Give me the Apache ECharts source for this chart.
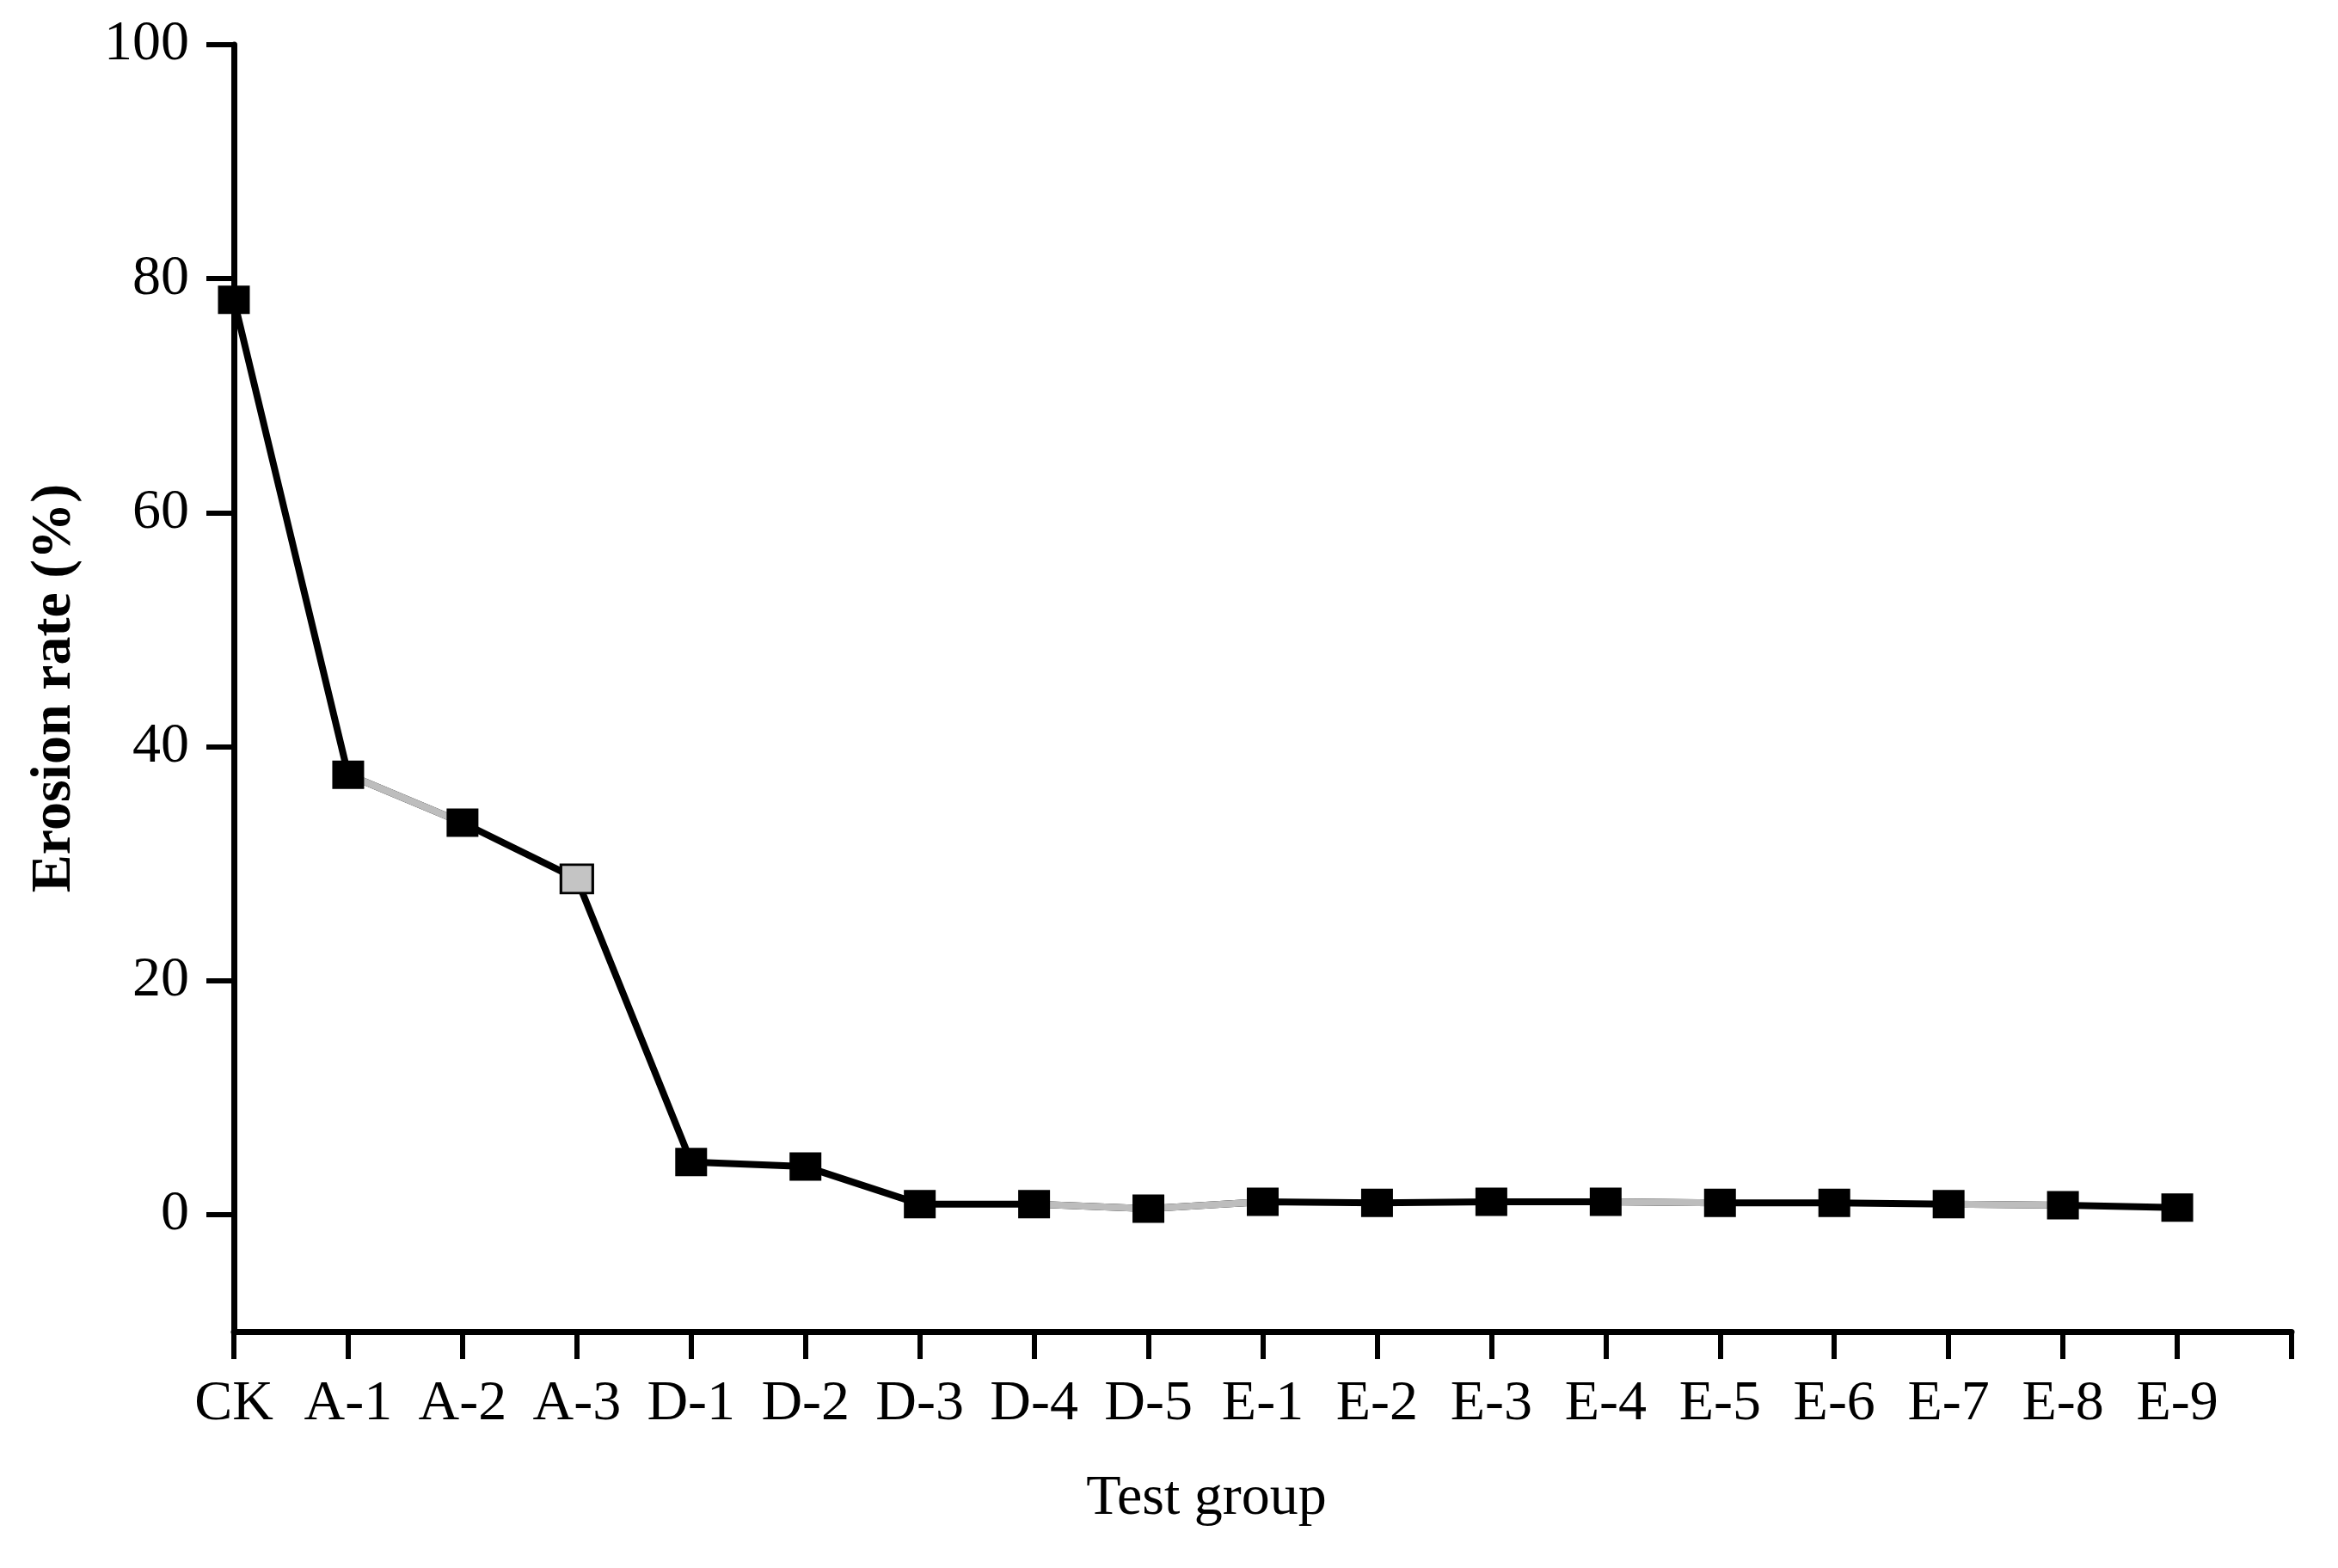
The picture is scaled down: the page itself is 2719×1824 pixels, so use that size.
<!DOCTYPE html>
<html>
<head>
<meta charset="utf-8">
<title>Erosion rate</title>
<script src="https://cdn.jsdelivr.net/npm/echarts@6/dist/echarts.min.js"></script>
<style>
    html, body { margin: 0; padding: 0; background: #fff; }
    #chart { width: 2719px; height: 1824px; }
</style>
</head>
<body>
<div id="chart"></div>
<script>
    const categories = ['CK', 'A-1', 'A-2', 'A-3', 'D-1', 'D-2', 'D-3', 'D-4', 'D-5',
        'E-1', 'E-2', 'E-3', 'E-4', 'E-5', 'E-6', 'E-7', 'E-8', 'E-9'];
    const erosionRate = [78.2, 37.6, 33.5, 28.7, 4.5, 4.1, 0.9, 0.9, 0.5,
        1.1, 1.0, 1.1, 1.1, 1.0, 1.0, 0.9, 0.8, 0.6];
    const yTicks = [0, 20, 40, 60, 80, 100];
    // segments (by start index) that are drawn light grey in the original
    const graySegments = [1, 7, 8, 12, 15];
    const grayMarkers = [3];

    const font = 'Liberation Serif';
    const black = '#000';
    const gray = '#bdbdbd';

    // one extra empty category so the axis ends with a tick after E-9
    const xData = categories.concat(['']);

    let series = [
        {
            name: 'line',
            type: 'line',
            data: erosionRate,
            symbol: 'none',
            lineStyle: { color: black, width: 8 },
            z: 2
        }
    ];

    graySegments.forEach(s => {
        series.push({
            type: 'line',
            data: erosionRate.map((v, i) => (i === s || i === s + 1) ? v : null),
            symbol: 'none',
            lineStyle: { color: gray, width: 8 },
            z: 3
        })
    })

    series.push({
        name: 'points',
        type: 'scatter',
        symbol: 'rect',
        symbolSize: [37, 33],
        data: erosionRate.map((v, i) => {
            if (grayMarkers.indexOf(i) >= 0) {
                return { value: v, itemStyle: { color: '#c4c4c4', borderColor: black, borderWidth: 3 } }
            }
            return v
        }),
        itemStyle: { color: black, opacity: 1 },
        z: 4
    })

    const option = {
        animation: false,
        backgroundColor: '#fff',
        title: {
            text: 'Test group',
            left: 1398,
            top: 1706,
            textAlign: 'center',
            textStyle: { fontFamily: font, fontSize: 66, fontWeight: 'normal', color: black }
        },
        grid: {
            left: 272,
            top: 52,
            right: 54,
            bottom: 275
        },
        xAxis: {
            type: 'category',
            data: xData,
            boundaryGap: false,
            axisLine: { onZero: false, lineStyle: { color: black, width: 7 } },
            axisTick: { interval: 0, length: 32, lineStyle: { color: black, width: 6 } },
            axisLabel: {
                interval: 0,
                margin: 52,
                fontFamily: font,
                fontSize: 66,
                color: black
            },
            splitLine: { show: false }
        },
        yAxis: {
            type: 'value',
            min: -10,
            max: 100,
            name: 'Erosion rate (%)',
            nameLocation: 'middle',
            nameGap: 175,
            nameTextStyle: { fontFamily: font, fontSize: 66, fontWeight: 'bold', color: black },
            axisLine: { show: true, lineStyle: { color: black, width: 7 } },
            axisTick: { show: true, customValues: yTicks, length: 32, lineStyle: { color: black, width: 6 } },
            axisLabel: {
                customValues: yTicks,
                margin: 52,
                fontFamily: font,
                fontSize: 66,
                color: black
            },
            splitLine: { show: false }
        },
        series: series
    };

    let myChart = echarts.init(document.getElementById('chart'))
    myChart.setOption(option)
</script>
</body>
</html>
